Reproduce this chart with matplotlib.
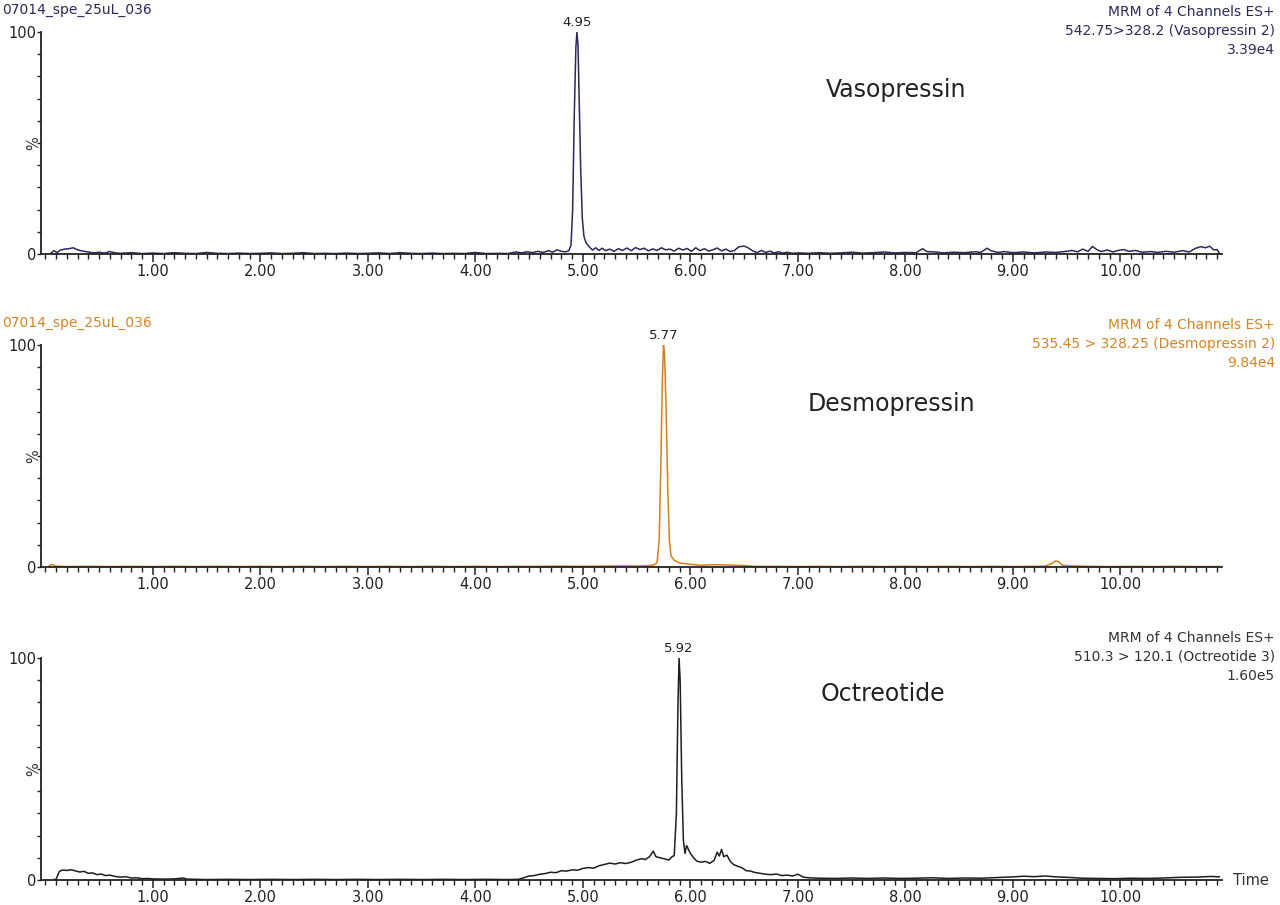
import matplotlib
matplotlib.use("Agg")
import matplotlib.pyplot as plt
from matplotlib.ticker import MultipleLocator, FixedLocator, FuncFormatter

# ---- data (time in min, intensity in %) ----
vaso_t = [0.05, 0.08, 0.11, 0.14, 0.18, 0.22, 0.26, 0.29, 0.32, 0.36, 0.40, 0.45, 0.50, 0.55,
          0.60, 0.65, 0.70, 0.80, 0.90, 1.00, 1.10, 1.20, 1.30, 1.40, 1.50, 1.60, 1.70, 1.80,
          1.90, 2.00, 2.10, 2.20, 2.30, 2.40, 2.50, 2.60, 2.70, 2.80, 2.90, 3.00, 3.10, 3.20,
          3.30, 3.40, 3.50, 3.60, 3.70, 3.80, 3.90, 4.00, 4.10, 4.20, 4.30, 4.38, 4.43, 4.48,
          4.53, 4.58, 4.63, 4.68, 4.72, 4.76, 4.80, 4.84, 4.87, 4.89, 4.905, 4.92, 4.935, 4.945,
          4.955, 4.965, 4.98, 4.995, 5.01, 5.03, 5.06, 5.09, 5.12, 5.15, 5.18, 5.21, 5.25, 5.29,
          5.33, 5.37, 5.41, 5.45, 5.49, 5.53, 5.57, 5.61, 5.65, 5.69, 5.73, 5.77, 5.81, 5.85,
          5.89, 5.93, 5.97, 6.01, 6.05, 6.09, 6.13, 6.17, 6.21, 6.25, 6.29, 6.33, 6.37, 6.41,
          6.45, 6.50, 6.54, 6.58, 6.62, 6.66, 6.70, 6.74, 6.78, 6.82, 6.86, 6.90, 6.95, 7.00,
          7.10, 7.20, 7.30, 7.40, 7.50, 7.60, 7.70, 7.80, 7.90, 8.00, 8.10, 8.16, 8.20, 8.28,
          8.35, 8.45, 8.55, 8.65, 8.70, 8.76, 8.80, 8.86, 8.92, 9.00, 9.10, 9.20, 9.30, 9.40,
          9.50, 9.55, 9.60, 9.65, 9.70, 9.74, 9.78, 9.82, 9.88, 9.93, 9.98, 10.03, 10.08, 10.14,
          10.20, 10.28, 10.35, 10.42, 10.50, 10.58, 10.64, 10.70, 10.75, 10.79, 10.83, 10.87,
          10.90, 10.92]
vaso_y = [0.3, 1.5, 0.6, 1.8, 2.2, 2.4, 2.8, 2.1, 1.6, 1.2, 0.9, 0.5, 0.8, 0.4,
          1.1, 0.5, 0.3, 0.6, 0.2, 0.4, 0.2, 0.6, 0.3, 0.2, 0.7, 0.3, 0.2, 0.4,
          0.2, 0.3, 0.5, 0.2, 0.3, 0.6, 0.2, 0.3, 0.2, 0.4, 0.2, 0.3, 0.5, 0.2,
          0.6, 0.3, 0.2, 0.4, 0.2, 0.3, 0.2, 0.7, 0.2, 0.3, 0.2, 0.9, 0.5, 1.0,
          0.6, 1.2, 0.7, 1.5, 0.8, 1.9, 1.2, 1.0, 1.5, 4.0, 20, 62, 93, 100,
          94, 72, 38, 16, 8.0, 5.0, 3.2, 1.8, 2.8, 1.6, 2.6, 1.5, 2.2, 1.2,
          2.4, 1.6, 2.7, 1.5, 2.9, 2.0, 2.6, 1.4, 2.3, 1.6, 2.8, 1.9, 2.2, 1.3,
          2.6, 1.8, 2.5, 1.2, 2.8, 1.5, 2.4, 1.3, 1.9, 2.7, 1.4, 2.2, 1.1, 1.6,
          3.2, 3.6, 2.7, 1.4, 0.6, 1.6, 0.7, 1.3, 0.5, 1.0, 0.4, 0.8, 0.3, 0.5,
          0.3, 0.6, 0.3, 0.5, 0.8, 0.4, 0.6, 0.9, 0.5, 0.7, 0.6, 2.4, 1.1, 0.9,
          0.5, 0.8, 0.6, 1.0, 0.7, 2.6, 1.4, 0.7, 1.1, 0.6, 0.9, 0.5, 0.9, 0.7,
          1.2, 1.6, 1.0, 2.2, 1.2, 3.4, 2.0, 1.1, 1.8, 0.9, 1.6, 2.0, 1.2, 1.6,
          0.8, 1.1, 0.7, 1.2, 0.8, 1.5, 0.9, 2.6, 3.3, 2.8, 3.5, 1.8,
          2.0, 0.4]

desmo_t = [0.03, 0.06, 0.10, 0.20, 0.40, 0.60, 0.80, 1.00, 1.20, 1.40, 1.60, 1.80, 2.00,
           2.20, 2.40, 2.60, 2.80, 3.00, 3.20, 3.40, 3.60, 3.80, 4.00, 4.20, 4.40, 4.60,
           4.80, 5.00, 5.20, 5.40, 5.50, 5.60, 5.66, 5.69, 5.71, 5.725, 5.74, 5.75, 5.76,
           5.775, 5.79, 5.805, 5.82, 5.85, 5.90, 6.00, 6.10, 6.20, 6.30, 6.40, 6.50, 6.60,
           6.80, 7.00, 7.20, 7.40, 7.60, 7.80, 8.00, 8.20, 8.40, 8.60, 8.80, 9.00, 9.20,
           9.30, 9.36, 9.40, 9.43, 9.46, 9.55, 9.70, 9.90, 10.10, 10.30, 10.50, 10.70, 10.92]
desmo_y = [0.2, 1.2, 0.4, 0.2, 0.3, 0.2, 0.3, 0.2, 0.3, 0.2, 0.3, 0.2, 0.3,
           0.2, 0.3, 0.2, 0.3, 0.2, 0.3, 0.2, 0.3, 0.2, 0.3, 0.2, 0.3, 0.3,
           0.4, 0.3, 0.4, 0.5, 0.4, 0.6, 0.9, 2.0, 12, 45, 85, 100, 96,
           70, 35, 12, 5.0, 3.0, 1.8, 1.2, 0.8, 1.0, 1.0, 0.8, 0.7, 0.3,
           0.3, 0.2, 0.3, 0.2, 0.3, 0.2, 0.3, 0.2, 0.3, 0.2, 0.3, 0.2, 0.3,
           0.4, 1.5, 2.8, 2.2, 0.8, 0.5, 0.3, 0.2, 0.3, 0.2, 0.3, 0.2, 0.2]

octr_t = [0.08, 0.10, 0.13, 0.16, 0.20, 0.24, 0.28, 0.32, 0.36, 0.40, 0.44, 0.48, 0.52,
          0.56, 0.60, 0.65, 0.70, 0.75, 0.80, 0.85, 0.90, 0.95, 1.00, 1.10, 1.20, 1.28,
          1.32, 1.40, 1.50, 1.70, 1.90, 2.10, 2.30, 2.50, 2.70, 2.90, 3.10, 3.30, 3.50,
          3.70, 3.90, 4.10, 4.30, 4.40, 4.45, 4.50, 4.55, 4.60, 4.65, 4.70, 4.75, 4.80,
          4.85, 4.90, 4.95, 5.00, 5.05, 5.10, 5.15, 5.20, 5.25, 5.30, 5.35, 5.40, 5.45,
          5.50, 5.55, 5.58, 5.62, 5.655, 5.68, 5.72, 5.76, 5.80, 5.83, 5.85, 5.87, 5.885,
          5.895, 5.905, 5.92, 5.935, 5.95, 5.965, 5.98, 6.00, 6.03, 6.06, 6.10, 6.14, 6.18,
          6.22, 6.25, 6.27, 6.29, 6.31, 6.34, 6.37, 6.40, 6.44, 6.48, 6.52, 6.56, 6.60,
          6.65, 6.70, 6.75, 6.80, 6.85, 6.90, 6.95, 7.00, 7.05, 7.10, 7.20, 7.35, 7.50,
          7.65, 7.80, 7.95, 8.10, 8.25, 8.40, 8.55, 8.70, 8.85, 9.00, 9.10, 9.20, 9.30,
          9.40, 9.50, 9.65, 9.80, 9.95, 10.10, 10.25, 10.40, 10.55, 10.70, 10.85, 10.92]
octr_y = [0.2, 0.3, 3.8, 4.5, 4.3, 4.6, 4.1, 3.6, 3.9, 3.0, 3.2, 2.4, 2.7,
          2.0, 2.2, 1.6, 1.3, 1.5, 0.9, 1.0, 0.6, 0.7, 0.5, 0.4, 0.5, 0.9,
          0.4, 0.3, 0.2, 0.3, 0.2, 0.3, 0.2, 0.3, 0.2, 0.3, 0.2, 0.3, 0.2,
          0.3, 0.2, 0.3, 0.2, 0.3, 1.0, 1.8, 2.0, 2.6, 2.9, 3.5, 3.3, 4.2,
          4.0, 4.6, 4.4, 5.2, 5.6, 5.3, 6.4, 7.0, 7.6, 7.2, 7.8, 7.4, 8.0,
          9.0, 9.6, 9.2, 10.5, 13.0, 10.5, 10.0, 9.5, 9.0, 10.5, 11.0, 30, 80,
          100, 90, 45, 18, 12, 15.5, 14, 12, 10, 8.5, 8.0, 8.4, 7.5,
          8.8, 12.5, 10.8, 13.8, 10.5, 11.2, 8.5, 7.0, 6.2, 5.5, 4.2, 4.0, 3.4,
          3.0, 2.6, 2.4, 2.7, 2.0, 2.2, 1.8, 2.6, 1.3, 1.0, 0.8, 0.7, 0.9,
          0.7, 0.9, 0.7, 0.8, 1.0, 0.7, 0.9, 0.8, 1.1, 1.4, 1.7, 1.5, 1.8,
          1.4, 1.2, 0.8, 0.7, 0.6, 0.8, 0.7, 0.9, 1.2, 1.3, 1.6, 1.4]

peak_times = [4.945, 5.75, 5.895]
peak_labels = ["4.95", "5.77", "5.92"]
compounds = ["Vasopressin", "Desmopressin", "Octreotide"]
sample_names = ["07014_spe_25uL_036", "07014_spe_25uL_036", None]
headers = [["MRM of 4 Channels ES+", "542.75>328.2 (Vasopressin 2)", "3.39e4"],
           ["MRM of 4 Channels ES+", "535.45 > 328.25 (Desmopressin 2)", "9.84e4"],
           ["MRM of 4 Channels ES+", "510.3 > 120.1 (Octreotide 3)", "1.60e5"]]
major_x = [1, 2, 3, 4, 5, 6, 7, 8, 9, 10]

traces = [(vaso_t, vaso_y), (desmo_t, desmo_y), (octr_t, octr_y)]
colors = ["#2b2a5a", "#d5801d", "#1e1e1e"]
text_colors = ["#2b2a5a", "#d28526", "#333333"]

W, H = 1280, 905
fig = plt.figure(figsize=(W / 100, H / 100), dpi=100)

# panel geometry in pixels: (top of 100 %, zero line)
panels_px = [(32, 254), (345, 567), (658, 880)]
left_px, right_px = 41, 1222
name_pos = [(0.724, 0.74), (0.72, 0.735), (0.713, 0.84)]

for i, (top, bot) in enumerate(panels_px):
    ax = fig.add_axes([left_px / W, 1 - bot / H, (right_px - left_px) / W, (bot - top) / H])
    t, y = traces[i]
    ax.plot(t, y, color=colors[i], lw=1.1)
    ax.set_xlim(-0.04, 10.945)
    ax.set_ylim(0, 100)

    for s in ["top", "right"]:
        ax.spines[s].set_visible(False)
    for s in ["left", "bottom"]:
        ax.spines[s].set_linewidth(1.3)
        ax.spines[s].set_color("#222222")

    ax.xaxis.set_major_locator(FixedLocator(major_x))
    ax.xaxis.set_major_formatter(FuncFormatter(lambda v, p: "%.2f" % v))
    ax.xaxis.set_minor_locator(MultipleLocator(0.1))
    ax.tick_params(axis="x", which="major", length=6, width=1.1, labelsize=10.5,
                   pad=1, colors="#222222")
    ax.tick_params(axis="x", which="minor", length=3.5, width=1.0, colors="#222222")

    ax.yaxis.set_major_locator(FixedLocator([0, 100]))
    ax.yaxis.set_minor_locator(MultipleLocator(10))
    ax.tick_params(axis="y", which="major", length=3, width=1.0, labelsize=10.5,
                   pad=0, colors="#222222")
    ax.tick_params(axis="y", which="minor", length=3, width=1.0, colors="#222222")
    ax.text(-0.006, 0.5, "%", transform=ax.transAxes, rotation=90, ha="center",
            va="center", fontsize=10.5, color="#333333")

    # retention time label above the apex
    ax.annotate(peak_labels[i], xy=(peak_times[i], 100), xytext=(0, 2),
                textcoords="offset points", ha="center", va="bottom",
                fontsize=9.5, color="#222222", annotation_clip=False)

    ax.text(name_pos[i][0], name_pos[i][1], compounds[i], transform=ax.transAxes,
            ha="center", va="center", fontsize=17, color="#222222")

    # header texts
    for j, line in enumerate(headers[i]):
        fig.text(0.996, 1 - (top - 20 + 19 * j) / H, line, ha="right", va="center",
                 fontsize=10, color=text_colors[i])
    if sample_names[i]:
        fig.text(0.002, 1 - (top - 22) / H, sample_names[i], ha="left", va="center",
                 fontsize=10, color=text_colors[i])

    if i == 2:
        ax.annotate("Time", xy=(1.0, 0), xycoords="axes fraction", xytext=(8, 0),
                    textcoords="offset points", ha="left", va="center",
                    fontsize=10.5, color="#333333", annotation_clip=False)

fig.savefig("out.png", dpi=100)
